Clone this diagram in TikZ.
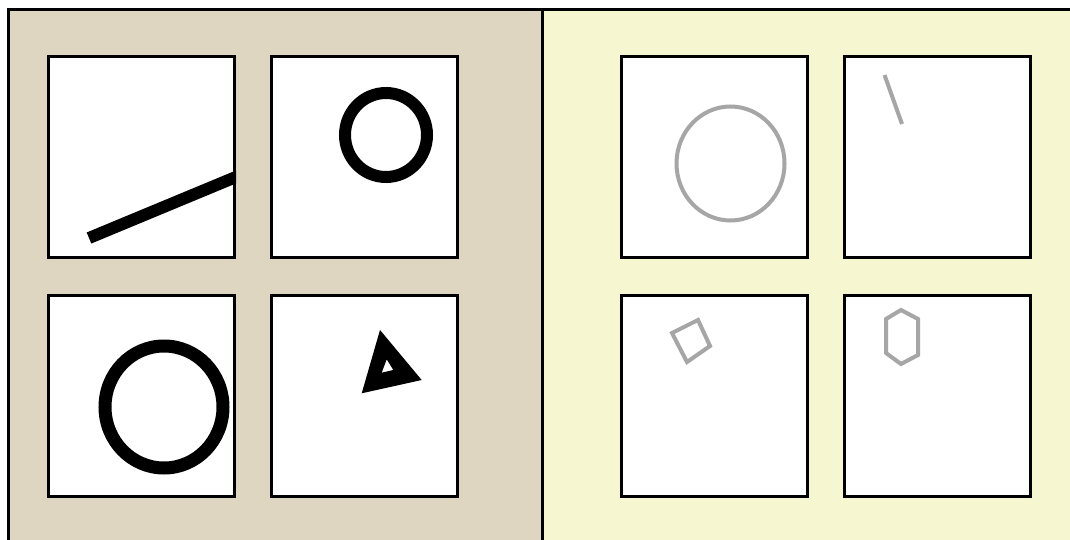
\documentclass[tikz,border=0pt]{standalone}
\definecolor{leftbg}{RGB}{222,214,192}
\definecolor{rightbg}{RGB}{246,246,208}
\definecolor{sketchgray}{RGB}{166,166,166}
\begin{document}
\begin{tikzpicture}[x=1pt,y=-1pt,
  panelbox/.style={draw=black, fill=white, line width=3pt, rectangle, inner sep=0pt,
    minimum width=186pt, minimum height=201pt},
  frameline/.style={draw=black, line width=3pt},
  inkblack/.style={draw=black, line width=12pt},
  inkgray/.style={draw=sketchgray, line width=4pt}]
\useasboundingbox (0,0) rectangle (1070,540);
\clip (0,0) rectangle (1070,540);
% panels
\fill[leftbg] (8,9.5) rectangle (542,545);
\fill[rightbg] (542,9.5) rectangle (1075,545);
\coordinate (ftr) at (1080,9.5);
\coordinate (ftl) at (8,9.5);
\coordinate (fbl) at (8,545);
\coordinate (dtop) at (542,9.5);
\coordinate (dbot) at (542,545);
\draw[frameline] (ftr) -- (ftl) -- (fbl);
\draw[frameline] (dtop) -- (dbot);
% boxes
\node[panelbox] (ltl) at (141.5,157) {};
\node[panelbox] (ltr) at (364.5,157) {};
\node[panelbox] (lbl) at (141.5,396) {};
\node[panelbox] (lbr) at (364.5,396) {};
\node[panelbox] (rtl) at (714.5,157) {};
\node[panelbox] (rtr) at (937.5,157) {};
\node[panelbox] (rbl) at (714.5,396) {};
\node[panelbox] (rbr) at (937.5,396) {};
% left: black shapes
\begin{scope}
  \clip (ltl.south west) rectangle (ltl.north east);
  \draw[inkblack] (89,238) -- (245,173.2);
\end{scope}
\draw[inkblack] (386,135) ellipse [x radius=41, y radius=42];
\draw[line width=13pt] (164,407) ellipse [x radius=59, y radius=61];
\fill[black, even odd rule] (380,330) -- (421.7,380) -- (361.7,393.3) -- cycle
  (386.7,359.3) -- (393.3,370) -- (381.7,372.7) -- cycle;
% right: gray shapes
\draw[inkgray] (730.5,163.5) ellipse [x radius=54, y radius=57];
\draw[inkgray] (884.5,75) -- (902,124);
\draw[inkgray] (672,333) -- (698,320) -- (710,346) -- (687,362) -- cycle;
\draw[inkgray] (901,310) -- (918,319) -- (918,355) -- (901,364) -- (886,353) -- (886,319) -- cycle;
\end{tikzpicture}
\end{document}
